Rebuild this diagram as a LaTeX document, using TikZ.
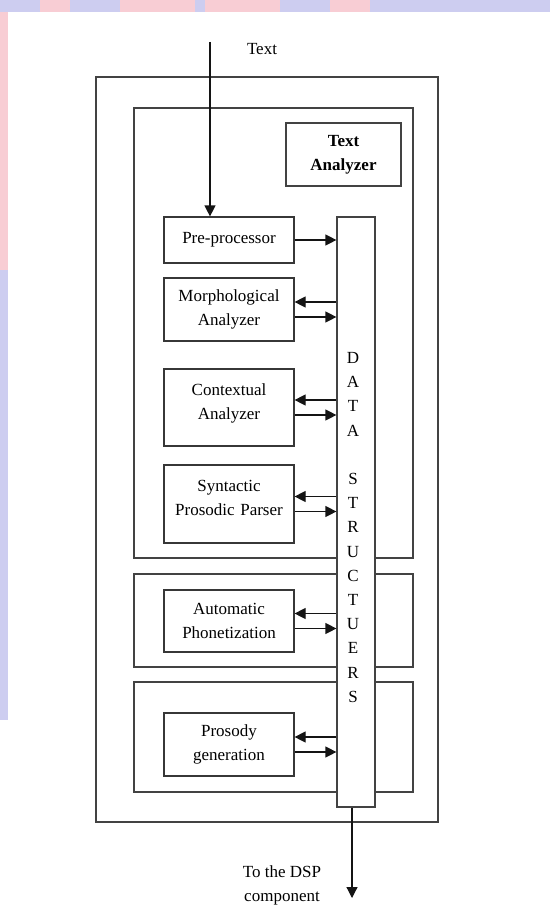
\documentclass[tikz,border=0pt]{standalone}
\usepackage{xcolor}
\usepackage{fontspec}
\setmainfont{Liberation Serif}
\usepackage{tikz}
\usetikzlibrary{arrows.meta, positioning, calc}
\definecolor{mydark}{RGB}{20,20,20}
\definecolor{bglav}{RGB}{205,205,240}
\definecolor{bgpink}{RGB}{248,205,212}
\newcommand{\topbox}[1]{\parbox[c][47pt][t]{130pt}{\centering #1}}
\tikzset{
  frame/.style={rectangle, draw=mydark!80, line width=1.2pt, inner sep=0pt},
  module/.style={rectangle, draw=mydark!85, fill=white, line width=1.2pt,
    text width=130pt, align=center, inner sep=0pt,
    font=\fontsize{17}{24}\selectfont},
  dsbox/.style={rectangle, draw=mydark!80, fill=white, line width=1.2pt,
    minimum width=38pt, minimum height=590pt, inner sep=0pt},
  arrow/.style={-{Triangle[length=11pt,width=11pt]}, line width=1.2pt, color=mydark},
  lbl/.style={font=\fontsize{17}{24}\selectfont, align=center, inner sep=0pt}
}

\begin{document}
\begin{tikzpicture}[x=1pt, y=-1pt]
  \useasboundingbox (0,0) rectangle (550,907);

  % slide background
  \fill[bglav] (0,0) rectangle (550,12);
  \fill[bgpink] (40,0) rectangle (70,12);
  \fill[bgpink] (120,0) rectangle (195,12);
  \fill[bgpink] (205,0) rectangle (280,12);
  \fill[bgpink] (330,0) rectangle (370,12);
  \fill[bgpink] (0,12) rectangle (8,270);
  \fill[bglav] (0,270) rectangle (8,720);

  % frames
  \node[frame, minimum width=342pt, minimum height=745pt] (outer) at (267,449.5) {};
  \node[frame, minimum width=279pt, minimum height=450pt] (grpta) at (273.5,333) {};
  \node[frame, minimum width=279pt, minimum height=93pt] (grpph) at (273.5,620.5) {};
  \node[frame, minimum width=279pt, minimum height=110pt] (grppr) at (273.5,737) {};
  \node[frame, minimum width=115pt, minimum height=63pt, align=center,
    font=\fontsize{17}{24}\selectfont\bfseries] (title) at (343.5,154.5) {Text\\Analyzer};

  % modules
  \node[module, minimum height=46pt] (pre) at (229,240) {Pre-processor};
  \node[module, minimum height=63pt] (morph) at (229,309.5) {Morphological\\Analyzer};
  \node[module, minimum height=77pt] (ctx) at (229,407.5) {\topbox{Contextual\\Analyzer}};
  \node[module, minimum height=78pt] (syn) at (229,504) {\topbox{Syntactic\\Prosodic Parser}};
  \node[module, minimum height=62pt] (phon) at (229,621) {Automatic\\Phonetization};
  \node[module, minimum height=63pt] (pros) at (229,744.5) {Prosody\\generation};

  % data structures
  \node[dsbox] (ds) at (356,512) {};
  \node[font=\fontsize{17}{24.2}\selectfont, align=center, inner sep=0pt] (dslbl) at (353,527.5)
    {D\\A\\T\\A\\[24.2pt]S\\T\\R\\U\\C\\T\\U\\E\\R\\S};

  % in and out
  \node[lbl] (txt) at (262,49) {Text};
  \coordinate (txtin) at (210,42);
  \draw[arrow] (txtin) -- (txtin |- pre.north);
  \draw[arrow] (pre.east) -- (pre.east -| ds.west);

  \foreach \m in {morph,ctx,syn,phon,pros} {
    \draw[arrow] ([yshift=7.5pt]\m.east -| ds.west) -- ([yshift=7.5pt]\m.east);
    \draw[arrow] ([yshift=-7.5pt]\m.east) -- ([yshift=-7.5pt]\m.east -| ds.west);
  }

  \coordinate (dspout) at (352,898);
  \draw[arrow] (dspout |- ds.south) -- (dspout);
  \node[lbl] (dsp) at (282,885) {To the DSP\\component};
\end{tikzpicture}
\end{document}
